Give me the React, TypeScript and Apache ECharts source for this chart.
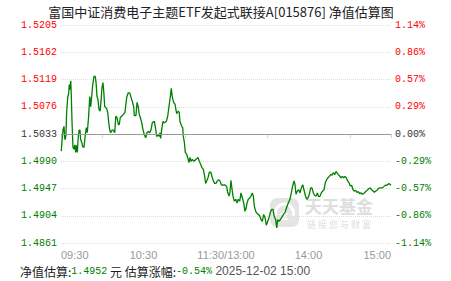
import React, { useEffect, useRef } from "react";
import * as echarts from "echarts";

const fundTitle = "富国中证消费电子主题ETF发起式联接A[015876] 净值估算图";
const navBase = 1.5033;
const estTime = "2025-12-02 15:00";

// minutes after 09:30 (trading minutes, lunch break removed)
const minutes = [
  0.2, 0.7, 1.5, 2.2, 2.7, 3.1, 3.6, 4.1, 4.9, 5.6, 6.0, 6.5, 7.1, 7.5, 8.0, 8.7, 9.5, 10.0, 10.7, 11.1,
  11.9, 12.4, 13.1, 13.8, 14.3, 15.1, 15.8, 16.7, 17.7, 18.4, 19.1, 20.1, 20.9, 21.6, 22.3, 23.1, 24.0, 24.9, 25.5, 26.2,
  26.9, 27.6, 28.4, 29.1, 29.8, 30.5, 31.1, 31.8, 32.5, 33.2, 34.0, 34.7, 35.4, 36.1, 37.1, 38.0, 39.1, 39.8, 40.7, 41.7,
  42.4, 43.1, 44.1, 45.3, 46.5, 47.8, 48.9, 50.0, 50.9, 51.9, 52.9, 53.3, 54.5, 55.3, 56.2, 56.9, 57.7, 58.7, 59.6, 60.6,
  61.6, 62.5, 63.5, 64.5, 65.5, 66.4, 67.9, 68.9, 69.6, 70.8, 71.5, 72.0, 72.5, 73.2, 74.2, 74.9, 75.6, 76.6, 77.6, 78.5,
  79.5, 80.2, 80.9, 81.9, 82.9, 84.1, 85.3, 86.0, 86.5, 87.8, 88.5, 88.9, 89.7, 90.4, 91.4, 92.1, 93.1, 93.8, 94.5, 95.5,
  96.7, 98.2, 99.6, 100.6, 101.6, 102.5, 103.5, 104.5, 105.2, 106.0, 106.9, 107.9, 108.9, 109.8, 110.8, 111.8, 112.7, 113.7, 114.7, 115.6,
  116.6, 117.6, 118.5, 119.5, 120.5, 121.2, 122.2, 122.9, 123.6, 124.1, 125.1, 126.0, 127.1, 128.0, 128.9, 130.0, 130.9, 131.9, 132.9, 133.8,
  134.5, 135.3, 136.2, 137.2, 138.2, 139.1, 139.9, 140.6, 141.6, 142.5, 143.5, 144.5, 145.5, 146.4, 147.4, 148.4, 149.3, 150.3, 151.3, 152.2,
  153.2, 154.2, 155.1, 156.1, 156.9, 157.6, 158.5, 159.5, 160.5, 161.7, 162.9, 164.1, 165.3, 166.5, 167.5, 168.5, 169.5, 170.2, 170.9, 171.9,
  172.9, 173.8, 174.8, 175.8, 176.7, 177.7, 178.7, 179.6, 180.6, 181.6, 182.5, 183.5, 184.5, 185.5, 186.4, 187.4, 188.4, 189.3, 190.3, 191.3,
  192.2, 193.2, 194.2, 195.1, 196.1, 197.1, 198.0, 199.1, 200.0, 201.7, 202.9, 203.6, 204.6, 205.6, 206.5, 207.5, 208.5, 209.5, 210.4, 211.4,
  212.4, 213.3, 214.3, 215.3, 216.2, 217.2, 218.2, 219.1, 220.1, 221.1, 222.0, 223.1, 224.0, 224.9, 225.9, 226.9, 227.9, 228.9, 229.8, 230.8,
  231.8, 232.7, 233.7, 234.7, 235.6, 236.5, 237.6, 238.5, 240.0,
];

const navs = [
  1.5006, 1.5022, 1.5040, 1.5045, 1.5027, 1.5024, 1.5032, 1.5067, 1.5091, 1.5098, 1.5111, 1.5103, 1.5117, 1.5092, 1.5053, 1.5012, 1.5009, 1.5016, 1.5004, 1.5015,
  1.5004, 1.5024, 1.5039, 1.5039, 1.5024, 1.5020, 1.5013, 1.5012, 1.5032, 1.5043, 1.5035, 1.5061, 1.5092, 1.5076, 1.5092, 1.5111, 1.5124, 1.5124, 1.5114, 1.5092,
  1.5087, 1.5072, 1.5069, 1.5084, 1.5106, 1.5114, 1.5100, 1.5076, 1.5075, 1.5073, 1.5067, 1.5051, 1.5040, 1.5035, 1.5039, 1.5039, 1.5035, 1.5061, 1.5059, 1.5048,
  1.5048, 1.5059, 1.5061, 1.5064, 1.5067, 1.5091, 1.5098, 1.5098, 1.5091, 1.5084, 1.5076, 1.5062, 1.5062, 1.5083, 1.5076, 1.5064, 1.5059, 1.5051, 1.5040, 1.5032,
  1.5027, 1.5035, 1.5037, 1.5035, 1.5040, 1.5051, 1.5053, 1.5040, 1.5029, 1.5032, 1.5029, 1.5035, 1.5026, 1.5040, 1.5053, 1.5051, 1.5051, 1.5053, 1.5061, 1.5076,
  1.5092, 1.5105, 1.5092, 1.5083, 1.5080, 1.5065, 1.5069, 1.5067, 1.5053, 1.5045, 1.5043, 1.5030, 1.5020, 1.5004, 1.5001, 1.4996, 1.4988, 1.4996, 1.4990, 1.4993,
  1.4990, 1.4993, 1.4996, 1.4990, 1.4985, 1.4980, 1.4977, 1.4966, 1.4955, 1.4959, 1.4964, 1.4973, 1.4973, 1.4966, 1.4959, 1.4955, 1.4955, 1.4959, 1.4961, 1.4959,
  1.4953, 1.4952, 1.4953, 1.4952, 1.4950, 1.4941, 1.4935, 1.4941, 1.4960, 1.4951, 1.4935, 1.4927, 1.4930, 1.4924, 1.4930, 1.4927, 1.4940, 1.4932, 1.4924, 1.4911,
  1.4915, 1.4924, 1.4930, 1.4932, 1.4935, 1.4940, 1.4935, 1.4919, 1.4911, 1.4908, 1.4906, 1.4904, 1.4898, 1.4895, 1.4906, 1.4901, 1.4889, 1.4895, 1.4901, 1.4909,
  1.4914, 1.4914, 1.4903, 1.4898, 1.4885, 1.4898, 1.4895, 1.4898, 1.4901, 1.4906, 1.4909, 1.4917, 1.4924, 1.4930, 1.4940, 1.4951, 1.4959, 1.4953, 1.4938, 1.4943,
  1.4945, 1.4940, 1.4948, 1.4953, 1.4945, 1.4936, 1.4930, 1.4932, 1.4938, 1.4948, 1.4948, 1.4940, 1.4936, 1.4935, 1.4940, 1.4934, 1.4935, 1.4940, 1.4943, 1.4945,
  1.4956, 1.4961, 1.4964, 1.4966, 1.4969, 1.4968, 1.4972, 1.4969, 1.4974, 1.4969, 1.4966, 1.4964, 1.4966, 1.4964, 1.4966, 1.4964, 1.4959, 1.4956, 1.4951, 1.4952,
  1.4945, 1.4943, 1.4944, 1.4941, 1.4942, 1.4939, 1.4940, 1.4938, 1.4939, 1.4941, 1.4943, 1.4945, 1.4947, 1.4948, 1.4945, 1.4943, 1.4941, 1.4943, 1.4944, 1.4947,
  1.4948, 1.4948, 1.4948, 1.4950, 1.4952, 1.4952, 1.4953, 1.4955, 1.4952,
];

const navTickLabels = ["1.4861", "1.4904", "1.4947", "1.4990", "1.5033", "1.5076", "1.5119", "1.5162", "1.5205"];
const pctTickLabels = ["-1.14%", "-0.86%", "-0.57%", "-0.29%", "0.00%", "0.29%", "0.57%", "0.86%", "1.14%"];
const timeLabelValues = [0, 60, 120, 180, 240];
const timeLabels = ["09:30", "10:30", "11:30/13:00", "14:00", "15:00"];
const timeTickValues = [0, 30, 90, 150, 210, 240];

const RED = "#ff0000";
const GREEN = "#008000";
const ZERO = "#333333";

export default function App() {
  const ref = useRef<HTMLDivElement>(null);

  useEffect(() => {
    if (!ref.current) return;
    const chart = echarts.init(ref.current, undefined, { renderer: "svg" });

    const pctMax = (parseFloat(navTickLabels[navTickLabels.length - 1]) / navBase - 1) * 100;
    const pctRound = Math.round(pctMax * 1000) / 1000;
    const interval = pctRound / 4;
    const data = minutes.map((m, i) => [m, (navs[i] / navBase - 1) * 100]);
    const lastNav = navs[navs.length - 1];
    const lastPct = (lastNav / navBase - 1) * 100;

    const labelColor = (_v: any, idx: number) => (idx < 4 ? GREEN : idx === 4 ? ZERO : RED);
    const monoFont = "'Liberation Mono', 'DejaVu Sans Mono', monospace";

    const yCommon = {
      type: "value",
      min: -pctRound,
      max: pctRound,
      interval,
      axisLine: { show: false },
      axisTick: { show: false },
    };

    chart.setOption({
      animation: false,
      backgroundColor: "#ffffff",
      grid: { left: 61, right: 60, top: 25, bottom: 38 },
      xAxis: {
        type: "value",
        min: 0,
        max: 240,
        axisLine: { show: true, lineStyle: { color: "#c5d3e3", width: 1 } },
        axisTick: {
          show: true,
          length: 4,
          customValues: timeTickValues,
          lineStyle: { color: "#c5d3e3" },
        },
        splitLine: { show: false },
        axisLabel: {
          customValues: timeLabelValues,
          formatter: (v: number) => {
            const i = timeLabelValues.indexOf(Math.round(v));
            return i >= 0 ? timeLabels[i] : "";
          },
          color: "#999999",
          fontSize: 11,
          fontFamily: "'Liberation Sans', Arial, sans-serif",
          margin: 6,
          alignMinLabel: "left",
          alignMaxLabel: "right",
        },
      },
      yAxis: [
        {
          ...yCommon,
          position: "left",
          splitLine: { show: true, lineStyle: { color: "#dddddd", type: [1, 1], width: 1 } },
          axisLabel: {
            formatter: (_v: number, idx: number) => navTickLabels[idx],
            color: labelColor,
            fontSize: 10,
            fontFamily: monoFont,
            margin: 4,
          },
        },
        {
          ...yCommon,
          position: "right",
          splitLine: { show: false },
          axisLabel: {
            formatter: (_v: number, idx: number) => pctTickLabels[idx],
            color: labelColor,
            fontSize: 10,
            fontFamily: monoFont,
            margin: 4,
          },
        },
      ],
      graphic: [
        {
          type: "text",
          x: 221,
          y: 11,
          style: {
            text: fundTitle,
            fill: "#222222",
            font: "13px 'Noto Sans CJK SC', sans-serif",
            textAlign: "center",
            textVerticalAlign: "middle",
          },
        },
        {
          type: "group",
          x: 270,
          y: 198,
          silent: true,
          children: [
            { type: "rect", shape: { x: 0, y: 0, width: 29, height: 29, r: 7 }, style: { fill: "#e4e4e4" } },
            { type: "arc", shape: { cx: 14.5, cy: 15, r: 9, startAngle: Math.PI * 0.9, endAngle: Math.PI * 2.1 }, style: { stroke: "#ffffff", lineWidth: 3, fill: "none" } },
            { type: "text", x: 14.5, y: 17, style: { text: "金", fill: "#ffffff", font: "bold 9px 'Noto Sans CJK SC'", textAlign: "center", textVerticalAlign: "middle" } },
            { type: "text", x: 35, y: 7, style: { text: "天天基金", fill: "#dedede", font: "bold 17px 'Noto Sans CJK SC'", textVerticalAlign: "middle" } },
            { type: "text", x: 37, y: 26, style: { text: "链 接 您 与 财 富", fill: "#dedede", font: "9px 'Noto Sans CJK SC'", textVerticalAlign: "middle" } },
          ],
        },
        {
          type: "text",
          x: 20,
          y: 271,
          style: {
            text: `{a|净值估算:}{g|${lastNav.toFixed(4)}}{a| 元 估算涨幅:}{g|${lastPct.toFixed(2)}%}{d| ${estTime}}`,
            textVerticalAlign: "middle",
            rich: {
              a: { fontSize: 12, fontFamily: "'Noto Sans CJK SC', sans-serif", fill: "#222222" } as any,
              g: { fontSize: 10, fontFamily: monoFont, fill: GREEN } as any,
              d: { fontSize: 12, fontFamily: "'Liberation Sans', Arial, sans-serif", fill: "#555555" } as any,
            },
          },
        },
      ],
      series: [
        {
          type: "line",
          yAxisIndex: 0,
          data,
          showSymbol: false,
          symbol: "none",
          lineStyle: { color: GREEN, width: 1.3 },
          z: 3,
          markLine: {
            silent: true,
            symbol: "none",
            label: { show: false },
            lineStyle: { color: "#999999", type: "solid", width: 1.2 },
            data: [{ yAxis: 0 }],
          },
        },
      ],
    });

    return () => chart.dispose();
  }, []);

  return (
    <div
      ref={ref}
      style={{ position: "fixed", left: 0, top: 0, width: 451, height: 281, background: "#fff" }}
    />
  );
}
